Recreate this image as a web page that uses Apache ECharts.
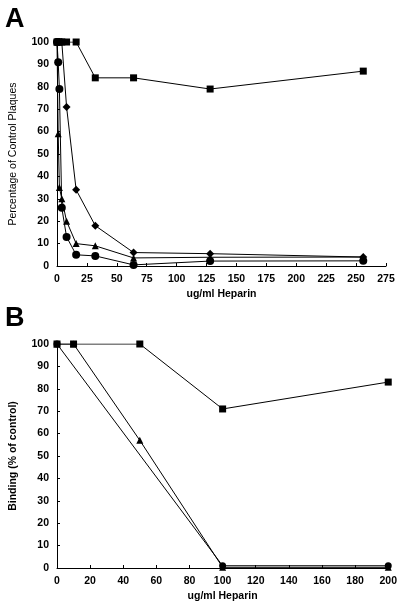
<!DOCTYPE html>
<html><head><meta charset="utf-8">
<script src="https://cdn.jsdelivr.net/npm/echarts@6/dist/echarts.min.js"></script>
<style>html,body{margin:0;padding:0;background:#fff}#c{width:400px;height:607px}</style>
</head><body><div id="c"></div>
<script>
// Panel A data
const xA = [0, 1, 2, 4, 8, 16, 32, 64, 128, 256];
const squaresA = [100, 100, 100, 100, 100, 100, 84, 84, 79, 87];
const diamondsA = [100, 100, 100, 100, 71, 34, 18, 6, 5.5, 4];
const circlesA = [100, 91, 79, 26, 13, 5, 4.5, 0.5, 2.2, 2.3];
const trianglesA = [100, 59, 35, 30, 20, 10, 9, 3.6, 3.9, 4];
// Panel B data
const xBsquares = [0, 10, 50, 100, 200];
const squaresB = [100, 100, 100, 71, 83];
const xBtriangles = [0, 10, 50, 100, 200];
const trianglesB = [100, 100, 57, 0.3, 0.3];
const xBcircles = [0, 100, 200];
const circlesB = [100, 1, 1];

const pairs = (xs, ys) => xs.map((x, i) => [x, ys[i]]);
const font = 'Liberation Sans, Arial, sans-serif';
const axisLine = {show: true, lineStyle: {color: '#000', width: 1}};
const lbl = {color: '#000', fontWeight: 'bold', fontSize: 10.5, fontFamily: font};
function xAx(gi, max, interval) {
  return {type: 'value', gridIndex: gi, min: 0, max: max, interval: interval,
    axisLine: axisLine, axisTick: {show: true, inside: true, length: 3, lineStyle: {color: '#000'}},
    axisLabel: Object.assign({margin: 8}, lbl), splitLine: {show: false},
    name: 'ug/ml Heparin', nameLocation: 'middle', nameGap: 23,
    nameTextStyle: {color: '#000', fontWeight: 'bold', fontSize: 10.5, fontFamily: font}};
}
function yAx(gi, name, bold) {
  return {type: 'value', gridIndex: gi, min: 0, max: 100, interval: 10,
    axisLine: axisLine, axisTick: {show: true, inside: true, length: 3, lineStyle: {color: '#000'}},
    axisLabel: Object.assign({margin: 8}, lbl), splitLine: {show: false},
    name: name, nameLocation: 'middle', nameGap: 38,
    nameTextStyle: {color: '#000', fontWeight: bold ? 'bold' : 'normal', fontSize: 10.5, fontFamily: font}};
}
function ser(gi, data, sym, size) {
  return {type: 'line', xAxisIndex: gi, yAxisIndex: gi, data: data, symbol: sym, symbolSize: size,
    showSymbol: true, animation: false, z: 3,
    lineStyle: {color: '#000', width: 1}, itemStyle: {color: '#000', borderWidth: 0}};
}
const chart = echarts.init(document.getElementById('c'), null, {renderer: 'canvas'});
chart.setOption({
  backgroundColor: '#fff',
  animation: false,
  grid: [
    {left: 57, right: 14, top: 42, height: 224},
    {left: 57, right: 11, top: 344, height: 224}
  ],
  xAxis: [xAx(0, 275, 25), xAx(1, 200, 20)],
  yAxis: [yAx(0, 'Percentage of Control Plaques', false), yAx(1, 'Binding (% of control)', true)],
  graphic: [
    {type: 'text', left: 5, top: 6, style: {text: 'A', font: 'bold 27px ' + font, fill: '#000'}},
    {type: 'text', left: 5, top: 305, style: {text: 'B', font: 'bold 27px ' + font, fill: '#000'}}
  ],
  series: [
    ser(0, pairs(xA, squaresA), 'rect', 7),
    ser(0, pairs(xA, diamondsA), 'diamond', 8),
    ser(0, pairs(xA, trianglesA), 'triangle', 7),
    ser(0, pairs(xA, circlesA), 'circle', 8),
    ser(1, pairs(xBsquares, squaresB), 'rect', 7),
    ser(1, pairs(xBtriangles, trianglesB), 'triangle', 7),
    ser(1, pairs(xBcircles, circlesB), 'circle', 7)
  ]
});
</script></body></html>
